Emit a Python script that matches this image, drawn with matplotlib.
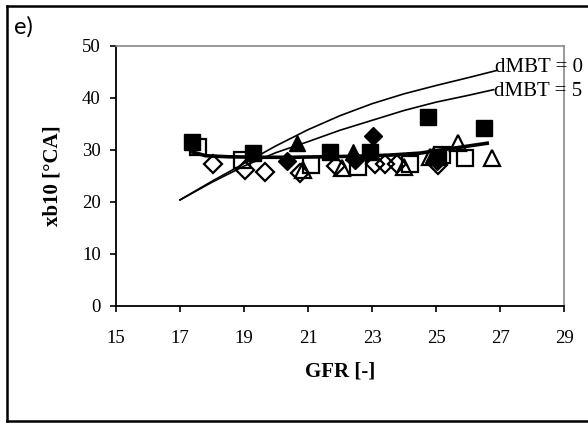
import matplotlib.pyplot as plt
from matplotlib.lines import Line2D

# measured points
fsq_x = [17.37, 19.29, 21.69, 22.94, 24.76, 25.06, 26.5]
fsq_y = [31.6, 29.4, 29.7, 29.7, 36.4, 28.7, 34.2]
osq_x = [17.57, 18.93, 21.1, 22.57, 24.19, 25.2, 25.9]
osq_y = [30.6, 28.1, 27.1, 26.8, 27.4, 29.0, 28.4]
fdi_x = [20.33, 22.47, 23.04, 25.02]
fdi_y = [27.8, 28.1, 32.7, 27.8]
odi_x = [18.04, 19.03, 19.66, 20.75, 21.87, 23.1, 23.41, 23.77, 25.06]
odi_y = [27.4, 26.2, 25.8, 25.5, 27.0, 27.4, 27.4, 27.4, 27.2]
ftr_x = [20.65, 22.42, 24.92]
ftr_y = [31.3, 29.7, 29.0]
otr_x = [20.85, 22.05, 24.0, 24.8, 25.7, 26.76]
otr_y = [26.2, 26.5, 26.8, 28.7, 31.3, 28.4]

# model curves
gfr_0 = [17.0, 18.0, 19.0, 20.0, 21.0, 22.0, 23.0, 24.0, 25.0, 26.0, 26.9]
xb_0 = [20.4, 24.0, 27.4, 30.8, 33.9, 36.6, 38.9, 40.8, 42.4, 43.9, 45.3]
gfr_5 = [17.0, 18.0, 19.0, 20.0, 21.0, 22.0, 23.0, 24.0, 25.0, 26.0, 26.8]
xb_5 = [20.4, 23.8, 26.9, 29.5, 31.6, 33.8, 35.7, 37.6, 39.2, 40.5, 41.6]
gfr_t = [17.4, 17.8, 18.5, 19.5, 20.5, 21.5, 22.5, 23.5, 24.5, 25.5, 26.6]
xb_t = [29.6, 28.9, 28.7, 28.6, 28.6, 28.7, 28.8, 29.0, 29.4, 30.3, 31.3]

serif = ['Liberation Serif', 'DejaVu Serif']

fig = plt.figure(figsize=(5.88, 4.25), dpi=100)
ax = fig.add_axes([116/588, 1-306/425, (564-116)/588, (306-46)/425])

ax.plot(fsq_x, fsq_y, 's', ms=11, color='black', zorder=3)
ax.plot(osq_x, osq_y, 's', ms=11, mfc='none', mec='black', mew=1.6, zorder=3)
ax.plot(fdi_x, fdi_y, 'D', ms=9, color='black', zorder=3)
ax.plot(odi_x, odi_y, 'D', ms=9, mfc='none', mec='black', mew=1.6, zorder=3)
ax.plot(ftr_x, ftr_y, '^', ms=11.5, color='black', zorder=3)
ax.plot(otr_x, otr_y, '^', ms=11.5, mfc='none', mec='black', mew=1.6, zorder=3)

ax.plot(gfr_0, xb_0, color='black', lw=1.2, zorder=4)
ax.plot(gfr_5, xb_5, color='black', lw=1.2, zorder=4)
ax.plot(gfr_t, xb_t, color='black', lw=2.6, zorder=4)

ax.text(gfr_0[-1] - 0.05, xb_0[-1] + 0.5, 'dMBT = 0', family=serif, fontsize=15,
        ha='left', va='center', clip_on=False)
ax.text(gfr_5[-1] + 0.0, xb_5[-1] - 0.3, 'dMBT = 5', family=serif, fontsize=15,
        ha='left', va='center', clip_on=False)

ax.set_xlim(15, 29)
ax.set_ylim(0, 50)
ax.set_xticks(range(15, 30, 2))
ax.set_yticks(range(0, 51, 10))
ax.tick_params(direction='out', length=4, width=1.2, labelsize=13.5)
ax.tick_params(axis='x', pad=13)
ax.tick_params(axis='y', pad=7)
for lab in ax.get_xticklabels() + ax.get_yticklabels():
    lab.set_family(serif)
for s in ['left', 'bottom']:
    ax.spines[s].set_color('black')
    ax.spines[s].set_linewidth(1.3)
for s in ['top', 'right']:
    ax.spines[s].set_color('#888888')
    ax.spines[s].set_linewidth(1.2)

ax.set_xlabel('GFR [-]', family=serif, fontsize=15, fontweight='bold', labelpad=11)
ax.set_ylabel('xb10 [°CA]', family=serif, fontsize=15, fontweight='bold', labelpad=14)

fig.text(14/588, 1-27/425, 'e)', family=['Lato', 'DejaVu Sans'], fontsize=17,
         ha='left', va='center')

# outer frame
x0, x1 = 7/588, 1.01
y0, y1 = 1-421/425, 1-6/425
for xs, ys in [([x0, x1], [y1, y1]), ([x0, x1], [y0, y0]), ([x0, x0], [y0, y1])]:
    fig.add_artist(Line2D(xs, ys, transform=fig.transFigure, color='black', lw=1.8))

fig.savefig('out.png', dpi=100)
